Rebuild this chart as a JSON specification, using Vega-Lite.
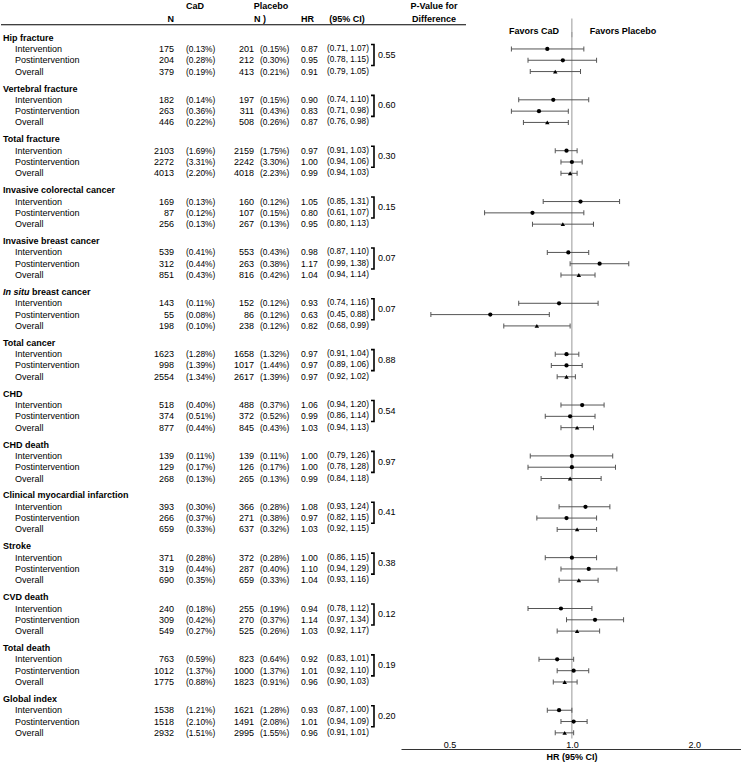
{
  "$schema": "https://vega.github.io/schema/vega-lite/v6.json",
  "padding": {"top": 0, "left": 0, "right": 0, "bottom": 14},
  "autosize": {"type": "pad"},
  "spacing": 0,
  "bounds": "flush",
  "config": {
    "view": {"stroke": null},
    "text": {"font": "Liberation Sans", "fontSize": 9, "color": "#000"}
  },
  "datasets": {
    "rows": [
      {"group": "Hip fracture", "period": "header"},
      {"group": "Hip fracture", "period": "Intervention", "nCaD": 175, "pctCaD": 0.13, "nPlacebo": 201, "pctPlacebo": 0.15, "hr": 0.87, "lo": 0.71, "hi": 1.07, "p": 0.55},
      {"group": "Hip fracture", "period": "Postintervention", "nCaD": 204, "pctCaD": 0.28, "nPlacebo": 212, "pctPlacebo": 0.30, "hr": 0.95, "lo": 0.78, "hi": 1.15},
      {"group": "Hip fracture", "period": "Overall", "nCaD": 379, "pctCaD": 0.19, "nPlacebo": 413, "pctPlacebo": 0.21, "hr": 0.91, "lo": 0.79, "hi": 1.05},
      {"group": "Vertebral fracture", "period": "header"},
      {"group": "Vertebral fracture", "period": "Intervention", "nCaD": 182, "pctCaD": 0.14, "nPlacebo": 197, "pctPlacebo": 0.15, "hr": 0.90, "lo": 0.74, "hi": 1.10, "p": 0.60},
      {"group": "Vertebral fracture", "period": "Postintervention", "nCaD": 263, "pctCaD": 0.36, "nPlacebo": 311, "pctPlacebo": 0.43, "hr": 0.83, "lo": 0.71, "hi": 0.98},
      {"group": "Vertebral fracture", "period": "Overall", "nCaD": 446, "pctCaD": 0.22, "nPlacebo": 508, "pctPlacebo": 0.26, "hr": 0.87, "lo": 0.76, "hi": 0.98},
      {"group": "Total fracture", "period": "header"},
      {"group": "Total fracture", "period": "Intervention", "nCaD": 2103, "pctCaD": 1.69, "nPlacebo": 2159, "pctPlacebo": 1.75, "hr": 0.97, "lo": 0.91, "hi": 1.03, "p": 0.30},
      {"group": "Total fracture", "period": "Postintervention", "nCaD": 2272, "pctCaD": 3.31, "nPlacebo": 2242, "pctPlacebo": 3.30, "hr": 1.00, "lo": 0.94, "hi": 1.06},
      {"group": "Total fracture", "period": "Overall", "nCaD": 4013, "pctCaD": 2.20, "nPlacebo": 4018, "pctPlacebo": 2.23, "hr": 0.99, "lo": 0.94, "hi": 1.03},
      {"group": "Invasive colorectal cancer", "period": "header"},
      {"group": "Invasive colorectal cancer", "period": "Intervention", "nCaD": 169, "pctCaD": 0.13, "nPlacebo": 160, "pctPlacebo": 0.12, "hr": 1.05, "lo": 0.85, "hi": 1.31, "p": 0.15},
      {"group": "Invasive colorectal cancer", "period": "Postintervention", "nCaD": 87, "pctCaD": 0.12, "nPlacebo": 107, "pctPlacebo": 0.15, "hr": 0.80, "lo": 0.61, "hi": 1.07},
      {"group": "Invasive colorectal cancer", "period": "Overall", "nCaD": 256, "pctCaD": 0.13, "nPlacebo": 267, "pctPlacebo": 0.13, "hr": 0.95, "lo": 0.80, "hi": 1.13},
      {"group": "Invasive breast cancer", "period": "header"},
      {"group": "Invasive breast cancer", "period": "Intervention", "nCaD": 539, "pctCaD": 0.41, "nPlacebo": 553, "pctPlacebo": 0.43, "hr": 0.98, "lo": 0.87, "hi": 1.10, "p": 0.07},
      {"group": "Invasive breast cancer", "period": "Postintervention", "nCaD": 312, "pctCaD": 0.44, "nPlacebo": 263, "pctPlacebo": 0.38, "hr": 1.17, "lo": 0.99, "hi": 1.38},
      {"group": "Invasive breast cancer", "period": "Overall", "nCaD": 851, "pctCaD": 0.43, "nPlacebo": 816, "pctPlacebo": 0.42, "hr": 1.04, "lo": 0.94, "hi": 1.14},
      {"group": "In situ breast cancer", "period": "header"},
      {"group": "In situ breast cancer", "period": "Intervention", "nCaD": 143, "pctCaD": 0.11, "nPlacebo": 152, "pctPlacebo": 0.12, "hr": 0.93, "lo": 0.74, "hi": 1.16, "p": 0.07},
      {"group": "In situ breast cancer", "period": "Postintervention", "nCaD": 55, "pctCaD": 0.08, "nPlacebo": 86, "pctPlacebo": 0.12, "hr": 0.63, "lo": 0.45, "hi": 0.88},
      {"group": "In situ breast cancer", "period": "Overall", "nCaD": 198, "pctCaD": 0.10, "nPlacebo": 238, "pctPlacebo": 0.12, "hr": 0.82, "lo": 0.68, "hi": 0.99},
      {"group": "Total cancer", "period": "header"},
      {"group": "Total cancer", "period": "Intervention", "nCaD": 1623, "pctCaD": 1.28, "nPlacebo": 1658, "pctPlacebo": 1.32, "hr": 0.97, "lo": 0.91, "hi": 1.04, "p": 0.88},
      {"group": "Total cancer", "period": "Postintervention", "nCaD": 998, "pctCaD": 1.39, "nPlacebo": 1017, "pctPlacebo": 1.44, "hr": 0.97, "lo": 0.89, "hi": 1.06},
      {"group": "Total cancer", "period": "Overall", "nCaD": 2554, "pctCaD": 1.34, "nPlacebo": 2617, "pctPlacebo": 1.39, "hr": 0.97, "lo": 0.92, "hi": 1.02},
      {"group": "CHD", "period": "header"},
      {"group": "CHD", "period": "Intervention", "nCaD": 518, "pctCaD": 0.40, "nPlacebo": 488, "pctPlacebo": 0.37, "hr": 1.06, "lo": 0.94, "hi": 1.20, "p": 0.54},
      {"group": "CHD", "period": "Postintervention", "nCaD": 374, "pctCaD": 0.51, "nPlacebo": 372, "pctPlacebo": 0.52, "hr": 0.99, "lo": 0.86, "hi": 1.14},
      {"group": "CHD", "period": "Overall", "nCaD": 877, "pctCaD": 0.44, "nPlacebo": 845, "pctPlacebo": 0.43, "hr": 1.03, "lo": 0.94, "hi": 1.13},
      {"group": "CHD death", "period": "header"},
      {"group": "CHD death", "period": "Intervention", "nCaD": 139, "pctCaD": 0.11, "nPlacebo": 139, "pctPlacebo": 0.11, "hr": 1.00, "lo": 0.79, "hi": 1.26, "p": 0.97},
      {"group": "CHD death", "period": "Postintervention", "nCaD": 129, "pctCaD": 0.17, "nPlacebo": 126, "pctPlacebo": 0.17, "hr": 1.00, "lo": 0.78, "hi": 1.28},
      {"group": "CHD death", "period": "Overall", "nCaD": 268, "pctCaD": 0.13, "nPlacebo": 265, "pctPlacebo": 0.13, "hr": 0.99, "lo": 0.84, "hi": 1.18},
      {"group": "Clinical myocardial infarction", "period": "header"},
      {"group": "Clinical myocardial infarction", "period": "Intervention", "nCaD": 393, "pctCaD": 0.30, "nPlacebo": 366, "pctPlacebo": 0.28, "hr": 1.08, "lo": 0.93, "hi": 1.24, "p": 0.41},
      {"group": "Clinical myocardial infarction", "period": "Postintervention", "nCaD": 266, "pctCaD": 0.37, "nPlacebo": 271, "pctPlacebo": 0.38, "hr": 0.97, "lo": 0.82, "hi": 1.15},
      {"group": "Clinical myocardial infarction", "period": "Overall", "nCaD": 659, "pctCaD": 0.33, "nPlacebo": 637, "pctPlacebo": 0.32, "hr": 1.03, "lo": 0.92, "hi": 1.15},
      {"group": "Stroke", "period": "header"},
      {"group": "Stroke", "period": "Intervention", "nCaD": 371, "pctCaD": 0.28, "nPlacebo": 372, "pctPlacebo": 0.28, "hr": 1.00, "lo": 0.86, "hi": 1.15, "p": 0.38},
      {"group": "Stroke", "period": "Postintervention", "nCaD": 319, "pctCaD": 0.44, "nPlacebo": 287, "pctPlacebo": 0.40, "hr": 1.10, "lo": 0.94, "hi": 1.29},
      {"group": "Stroke", "period": "Overall", "nCaD": 690, "pctCaD": 0.35, "nPlacebo": 659, "pctPlacebo": 0.33, "hr": 1.04, "lo": 0.93, "hi": 1.16},
      {"group": "CVD death", "period": "header"},
      {"group": "CVD death", "period": "Intervention", "nCaD": 240, "pctCaD": 0.18, "nPlacebo": 255, "pctPlacebo": 0.19, "hr": 0.94, "lo": 0.78, "hi": 1.12, "p": 0.12},
      {"group": "CVD death", "period": "Postintervention", "nCaD": 309, "pctCaD": 0.42, "nPlacebo": 270, "pctPlacebo": 0.37, "hr": 1.14, "lo": 0.97, "hi": 1.34},
      {"group": "CVD death", "period": "Overall", "nCaD": 549, "pctCaD": 0.27, "nPlacebo": 525, "pctPlacebo": 0.26, "hr": 1.03, "lo": 0.92, "hi": 1.17},
      {"group": "Total death", "period": "header"},
      {"group": "Total death", "period": "Intervention", "nCaD": 763, "pctCaD": 0.59, "nPlacebo": 823, "pctPlacebo": 0.64, "hr": 0.92, "lo": 0.83, "hi": 1.01, "p": 0.19},
      {"group": "Total death", "period": "Postintervention", "nCaD": 1012, "pctCaD": 1.37, "nPlacebo": 1000, "pctPlacebo": 1.37, "hr": 1.01, "lo": 0.92, "hi": 1.10},
      {"group": "Total death", "period": "Overall", "nCaD": 1775, "pctCaD": 0.88, "nPlacebo": 1823, "pctPlacebo": 0.91, "hr": 0.96, "lo": 0.90, "hi": 1.03},
      {"group": "Global index", "period": "header"},
      {"group": "Global index", "period": "Intervention", "nCaD": 1538, "pctCaD": 1.21, "nPlacebo": 1621, "pctPlacebo": 1.28, "hr": 0.93, "lo": 0.87, "hi": 1.00, "p": 0.20},
      {"group": "Global index", "period": "Postintervention", "nCaD": 1518, "pctCaD": 2.10, "nPlacebo": 1491, "pctPlacebo": 2.08, "hr": 1.01, "lo": 0.94, "hi": 1.09},
      {"group": "Global index", "period": "Overall", "nCaD": 2932, "pctCaD": 1.51, "nPlacebo": 2995, "pctPlacebo": 1.55, "hr": 0.96, "lo": 0.91, "hi": 1.01}
    ]
  },
  "vconcat": [
    {
      "width": 741,
      "height": 31.85,
      "data": {"values": [{}]},
      "layer": [
        {
          "layer": [
            {"mark": {"type": "text", "text": "CaD", "fontWeight": "bold", "align": "center"},
             "encoding": {"x": {"datum": 6, "type": "quantitative", "axis": null, "scale": {"type": "linear", "domain": [0,1,2,3,4,5,6,7,8,9,10,11,12,13,14,15,16], "range": [0,2,14,31,173,185,194,253,259,270,300,326,346,373,377,433,465], "nice": false, "zero": false}},
                          "y": {"datum": "h1", "type": "nominal", "axis": null, "scale": {"type": "point", "domain": ["h1","a","h2","line","fav","end"], "range": [6, 37.25], "padding": 0}}}},
            {"mark": {"type": "text", "text": "Placebo", "fontWeight": "bold", "align": "center"},
             "encoding": {"x": {"datum": 9, "type": "quantitative", "axis": null}, "y": {"datum": "h1", "type": "nominal", "axis": null}}},
            {"mark": {"type": "text", "text": "P-Value for", "fontWeight": "bold", "align": "center"},
             "encoding": {"x": {"datum": 15, "type": "quantitative", "axis": null}, "y": {"datum": "h1", "type": "nominal", "axis": null}}},
            {"mark": {"type": "text", "text": "N", "fontWeight": "bold", "align": "right"},
             "encoding": {"x": {"datum": 4, "type": "quantitative", "axis": null}, "y": {"datum": "h2", "type": "nominal", "axis": null}}},
            {"mark": {"type": "text", "text": "N )", "fontWeight": "bold", "align": "left"},
             "encoding": {"x": {"datum": 7, "type": "quantitative", "axis": null}, "y": {"datum": "h2", "type": "nominal", "axis": null}}},
            {"mark": {"type": "text", "text": "HR", "fontWeight": "bold", "align": "left"},
             "encoding": {"x": {"datum": 10, "type": "quantitative", "axis": null}, "y": {"datum": "h2", "type": "nominal", "axis": null}}},
            {"mark": {"type": "text", "text": "(95% CI)", "fontWeight": "bold", "align": "center"},
             "encoding": {"x": {"datum": 12, "type": "quantitative", "axis": null}, "y": {"datum": "h2", "type": "nominal", "axis": null}}},
            {"mark": {"type": "text", "text": "Difference", "fontWeight": "bold", "align": "center"},
             "encoding": {"x": {"datum": 15, "type": "quantitative", "axis": null}, "y": {"datum": "h2", "type": "nominal", "axis": null}}},
            {"mark": {"type": "rule", "color": "#000", "strokeWidth": 1},
             "encoding": {"x": {"datum": 0, "type": "quantitative", "axis": null}, "x2": {"datum": 16}, "y": {"datum": "line", "type": "nominal", "axis": null}}}
          ]
        },
        {
          "layer": [
            {"mark": {"type": "rule", "color": "#999", "strokeWidth": 1},
             "encoding": {"x": {"datum": 1, "type": "quantitative", "axis": null, "scale": {"type": "log", "domain": [0.38, 2.62], "range": [400, 741], "nice": false}},
                          "y": {"datum": "h2", "type": "nominal", "axis": null}, "y2": {"datum": "end"}}},
            {"mark": {"type": "text", "text": "Favors CaD", "fontWeight": "bold", "align": "center"},
             "encoding": {"x": {"datum": 0.807, "type": "quantitative", "axis": null}, "y": {"datum": "fav", "type": "nominal", "axis": null}}},
            {"mark": {"type": "text", "text": "Favors Placebo", "fontWeight": "bold", "align": "center"},
             "encoding": {"x": {"datum": 1.336, "type": "quantitative", "axis": null}, "y": {"datum": "fav", "type": "nominal", "axis": null}}}
          ]
        }
      ],
      "resolve": {"scale": {"x": "independent"}, "axis": {"x": "independent"}}
    },
    {
      "width": 741,
      "height": 706.5,
      "layer": [
        {
          "data": {"name": "rows"},
          "transform": [
            {"calculate": "'(' + format(datum.pctCaD, '.2f') + '%)'", "as": "pctCaDText"},
            {"calculate": "'(' + format(datum.pctPlacebo, '.2f') + '%)'", "as": "pctPlaceboText"},
            {"calculate": "'(' + format(datum.lo, '.2f') + ', ' + format(datum.hi, '.2f') + ')'", "as": "ciText"}
          ],
          "encoding": {
            "y": {"field": "group", "type": "nominal", "axis": null, "scale": {"type": "band", "domain": ["Hip fracture","Vertebral fracture","Total fracture","Invasive colorectal cancer","Invasive breast cancer","In situ breast cancer","Total cancer","CHD","CHD death","Clinical myocardial infarction","Stroke","CVD death","Total death","Global index"], "paddingInner": 0.111, "paddingOuter": 0}},
            "yOffset": {"field": "period", "type": "nominal", "scale": {"type": "band", "domain": ["header","Intervention","Postintervention","Overall"], "paddingInner": 0, "paddingOuter": 0}}
          },
          "layer": [
            {"transform": [{"filter": "datum.period === 'header' && datum.group !== 'In situ breast cancer'"}],
             "mark": {"type": "text", "fontWeight": "bold", "align": "left"},
             "encoding": {"x": {"datum": 1, "type": "quantitative", "axis": null, "scale": {"type": "linear", "domain": [0,1,2,3,4,5,6,7,8,9,10,11,12,13,14,15,16], "range": [0,2,14,31,173,185,194,253,259,270,300,326,346,373,377,433,465], "nice": false, "zero": false}},
                          "text": {"field": "group"}}},
            {"transform": [{"filter": "datum.period === 'header' && datum.group === 'In situ breast cancer'"}],
             "mark": {"type": "text", "fontWeight": "bold", "fontStyle": "italic", "align": "left", "text": "In situ"},
             "encoding": {"x": {"datum": 1, "type": "quantitative", "axis": null}}},
            {"transform": [{"filter": "datum.period === 'header' && datum.group === 'In situ breast cancer'"}],
             "mark": {"type": "text", "fontWeight": "bold", "align": "left", "text": "breast cancer"},
             "encoding": {"x": {"datum": 3, "type": "quantitative", "axis": null}}},
            {"transform": [{"filter": "datum.period !== 'header'"}],
             "mark": {"type": "text", "align": "left"},
             "encoding": {"x": {"datum": 2, "type": "quantitative", "axis": null}, "text": {"field": "period"}}},
            {"transform": [{"filter": "datum.period !== 'header'"}],
             "mark": {"type": "text", "align": "right"},
             "encoding": {"x": {"datum": 4, "type": "quantitative", "axis": null}, "text": {"field": "nCaD"}}},
            {"transform": [{"filter": "datum.period !== 'header'"}],
             "mark": {"type": "text", "align": "left", "fontSize": 8.4},
             "encoding": {"x": {"datum": 5, "type": "quantitative", "axis": null}, "text": {"field": "pctCaDText"}}},
            {"transform": [{"filter": "datum.period !== 'header'"}],
             "mark": {"type": "text", "align": "right"},
             "encoding": {"x": {"datum": 7, "type": "quantitative", "axis": null}, "text": {"field": "nPlacebo"}}},
            {"transform": [{"filter": "datum.period !== 'header'"}],
             "mark": {"type": "text", "align": "left", "fontSize": 8.4},
             "encoding": {"x": {"datum": 8, "type": "quantitative", "axis": null}, "text": {"field": "pctPlaceboText"}}},
            {"transform": [{"filter": "datum.period !== 'header'"}],
             "mark": {"type": "text", "align": "left", "fontSize": 8.6},
             "encoding": {"x": {"datum": 10, "type": "quantitative", "axis": null}, "text": {"field": "hr", "format": ".2f"}}},
            {"transform": [{"filter": "datum.period !== 'header'"}],
             "mark": {"type": "text", "align": "left", "fontSize": 8.2},
             "encoding": {"x": {"datum": 11, "type": "quantitative", "axis": null}, "text": {"field": "ciText"}}},
            {"transform": [{"filter": "datum.period === 'Intervention'"}],
             "mark": {"type": "point", "shape": "M -0.3 -0.45 L 0 -0.45 L 0 1.65 L -0.3 1.65", "size": 400, "filled": false, "stroke": "#000", "strokeWidth": 1.6, "opacity": 1},
             "encoding": {"x": {"datum": 13, "type": "quantitative", "axis": null}}},
            {"transform": [{"filter": "datum.period === 'Intervention'"}],
             "mark": {"type": "text", "align": "left", "dy": 5.65},
             "encoding": {"x": {"datum": 14, "type": "quantitative", "axis": null}, "text": {"field": "p", "format": ".2f"}}}
          ]
        },
        {
          "layer": [
            {"data": {"values": [{}]},
             "mark": {"type": "rule", "color": "#999", "strokeWidth": 1},
             "encoding": {"x": {"datum": 1, "type": "quantitative", "axis": null,
               "scale": {"type": "log", "domain": [0.38, 2.62], "range": [400, 741], "nice": false}}}},
            {
              "data": {"name": "rows"},
              "transform": [{"filter": "datum.period !== 'header'"}],
              "encoding": {
                "y": {"field": "group", "type": "nominal", "axis": null},
                "yOffset": {"field": "period", "type": "nominal"}
              },
              "layer": [
                {"mark": {"type": "rule", "color": "#555", "strokeWidth": 1},
                 "encoding": {"x": {"field": "lo", "type": "quantitative", "axis": null}, "x2": {"field": "hi"}}},
                {"mark": {"type": "tick", "orient": "vertical", "color": "#555", "size": 5, "thickness": 1, "opacity": 1},
                 "encoding": {"x": {"field": "lo", "type": "quantitative", "axis": null}}},
                {"mark": {"type": "tick", "orient": "vertical", "color": "#555", "size": 5, "thickness": 1, "opacity": 1},
                 "encoding": {"x": {"field": "hi", "type": "quantitative", "axis": null}}},
                {"transform": [{"filter": "datum.period !== 'Overall'"}],
                 "mark": {"type": "point", "shape": "circle", "filled": true, "size": 18, "color": "#000", "opacity": 1},
                 "encoding": {"x": {"field": "hr", "type": "quantitative", "axis": null}}},
                {"transform": [{"filter": "datum.period === 'Overall'"}],
                 "mark": {"type": "point", "shape": "triangle-up", "filled": true, "size": 20, "color": "#000", "opacity": 1},
                 "encoding": {"x": {"field": "hr", "type": "quantitative", "axis": null}}}
              ]
            }
          ]
        }
      ],
      "resolve": {"scale": {"x": "independent"}, "axis": {"x": "independent"}}
    },
    {
      "width": 741,
      "height": 10,
      "data": {"name": "rows"},
      "transform": [{"filter": "datum.period !== 'header'"}],
      "mark": {"type": "tick", "opacity": 0},
      "encoding": {
        "x": {"field": "hr", "type": "quantitative",
          "scale": {"type": "log", "domain": [0.38, 2.62], "range": [400, 741], "nice": false},
          "axis": {"orient": "bottom", "values": [0.5, 1, 2], "format": ".1f", "title": "HR (95% CI)", "grid": false, "ticks": false, "tickSize": 0, "domainColor": "#333", "labelFont": "Liberation Sans", "labelFontSize": 9, "labelColor": "#000", "labelPadding": -9, "labelFlush": false, "titleFont": "Liberation Sans", "titleFontSize": 9, "titleFontWeight": "bold", "titleColor": "#000", "titlePadding": 3}}
      }
    }
  ]
}
